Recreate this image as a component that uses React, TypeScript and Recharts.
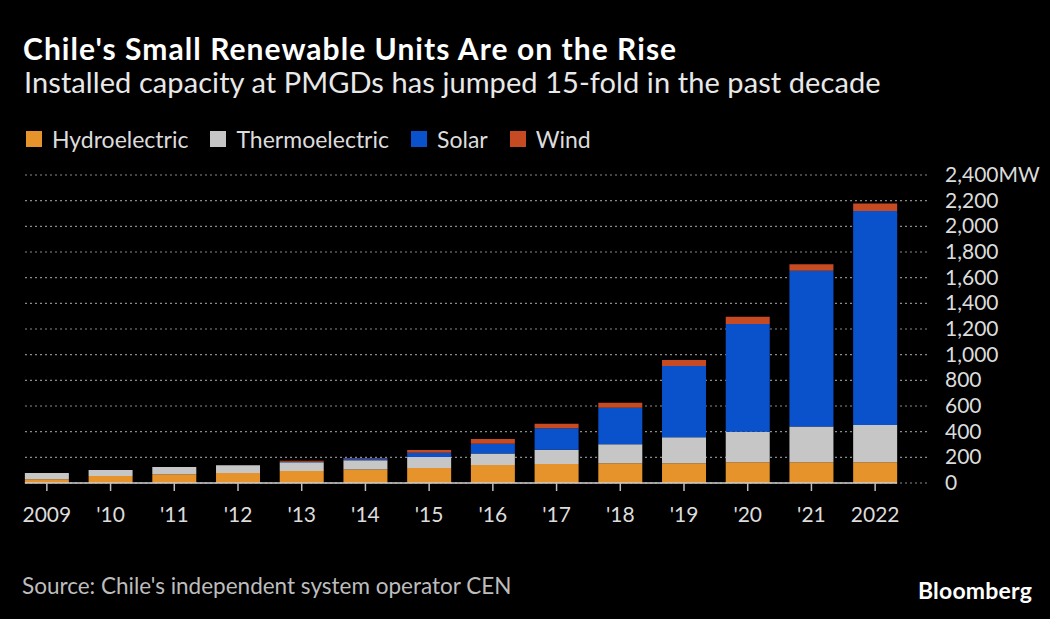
import React from 'react';
import { BarChart, Bar, XAxis, YAxis, CartesianGrid, ReferenceLine } from 'recharts';

const years = ['2009', "'10", "'11", "'12", "'13", "'14", "'15", "'16", "'17", "'18", "'19", "'20", "'21", '2022'];
const hydro = [30, 55, 68, 78, 93, 106, 117, 140, 148, 153, 153, 161, 161, 161];
const thermo = [48, 46, 57, 60, 68, 71, 85, 89, 112, 148, 203, 239, 280, 291];
const solar = [0, 0, 0, 0, 4, 14, 34, 77, 166, 286, 556, 839, 1212, 1668];
const wind = [0, 0, 0, 0, 8, 4, 22, 37, 36, 39, 46, 57, 52, 57];
const yTicks = [0, 200, 400, 600, 800, 1000, 1200, 1400, 1600, 1800, 2000, 2200, 2400];

const series = [
  { key: 'hydro', name: 'Hydroelectric', color: '#E5932A' },
  { key: 'thermo', name: 'Thermoelectric', color: '#C6C6C6' },
  { key: 'solar', name: 'Solar', color: '#0A52CC' },
  { key: 'wind', name: 'Wind', color: '#C64A22' },
];

const data = years.map((y, i) => ({
  year: y,
  hydro: hydro[i],
  thermo: thermo[i],
  solar: solar[i],
  wind: wind[i],
}));

const FONT = 'Lato, "Noto Sans", sans-serif';
const GAP = 0.155;

const XTick = (props: any) => {
  const { x, y, payload } = props;
  return (
    <text x={x} y={y} dy={31} textAnchor="middle" fill="#dcdcdc" fontSize={21} fontFamily={FONT}>
      {payload.value}
    </text>
  );
};

const YTick = (props: any) => {
  const { x, y, payload } = props;
  const label = payload.value.toLocaleString('en-US') + (payload.value === 2400 ? 'MW' : '');
  return (
    <text x={x} y={y} dy={7} textAnchor="start" fill="#dcdcdc" fontSize={21} fontFamily={FONT}>
      {label}
    </text>
  );
};

const Baseline = (props: any) => {
  const { x1, y1, x2 } = props;
  const band = (x2 - x1) / (years.length - 1);
  const half = (band * (1 - 2 * GAP)) / 2;
  return <line x1={x1 - half} x2={x2 + half} y1={y1} y2={y1} stroke="#cfcfcf" strokeWidth={1.5} />;
};

export default function App() {
  return (
    <div style={{ position: 'relative', width: 1050, height: 619, background: '#000', overflow: 'hidden', fontFamily: FONT }}>
      <style>{'body{margin:0;background:#000}'}</style>
      <div style={{ position: 'absolute', left: 23, top: 30, fontSize: 30, lineHeight: '36px', fontWeight: 700, letterSpacing: 1.05, color: '#fff', whiteSpace: 'nowrap' }}>
        Chile's Small Renewable Units Are on the Rise
      </div>
      <div style={{ position: 'absolute', left: 24, top: 65, fontSize: 29, lineHeight: '34px', letterSpacing: 0.08, color: '#e8e8e8', whiteSpace: 'nowrap' }}>
        Installed capacity at PMGDs has jumped 15-fold in the past decade
      </div>
      <div style={{ position: 'absolute', left: 26, top: 125, display: 'flex', alignItems: 'center', fontSize: 23, lineHeight: '28px', color: '#dcdcdc', whiteSpace: 'nowrap' }}>
        {series.map((s) => (
          <div key={s.key} style={{ display: 'flex', alignItems: 'center', marginRight: 22 }}>
            <span style={{ display: 'inline-block', width: 16, height: 16, background: s.color, marginRight: 10 }} />
            <span>{s.name}</span>
          </div>
        ))}
      </div>
      <div style={{ position: 'absolute', left: 0, top: 0 }}>
        <BarChart
          width={1050}
          height={619}
          data={data}
          margin={{ top: 175, right: 23, left: 25, bottom: 86 }}
          barCategoryGap={`${GAP * 100}%`}
        >
          <CartesianGrid horizontal vertical={false} stroke="#8a8a8a" strokeDasharray="2 3" strokeWidth={1.2} />
          <XAxis
            dataKey="year"
            height={50}
            padding={{ left: -10, right: 20 }}
            axisLine={false}
            tickLine={{ stroke: '#bdbdbd', strokeWidth: 1.5 }}
            tickSize={8}
            tickMargin={0}
            tick={<XTick />}
            interval={0}
          />
          <YAxis
            orientation="right"
            width={100}
            domain={[0, 2400]}
            ticks={yTicks}
            axisLine={false}
            tickLine={false}
            tickSize={0}
            tickMargin={18}
            tick={<YTick />}
            interval={0}
          />
          {series.map((s) => (
            <Bar key={s.key} dataKey={s.key} name={s.name} stackId="a" fill={s.color} isAnimationActive={false} />
          ))}
          <ReferenceLine
            segment={[{ x: years[0], y: 0 }, { x: years[years.length - 1], y: 0 }]}
            shape={<Baseline />}
          />
        </BarChart>
      </div>
      <div style={{ position: 'absolute', left: 22, top: 573, fontSize: 22.5, lineHeight: '26px', color: '#bdbdbd', whiteSpace: 'nowrap' }}>
        Source: Chile's independent system operator CEN
      </div>
      <div style={{ position: 'absolute', right: 18, top: 577, fontSize: 23, lineHeight: '26px', fontWeight: 700, color: '#fff', letterSpacing: 0.2, whiteSpace: 'nowrap' }}>
        Bloomberg
      </div>
    </div>
  );
}
